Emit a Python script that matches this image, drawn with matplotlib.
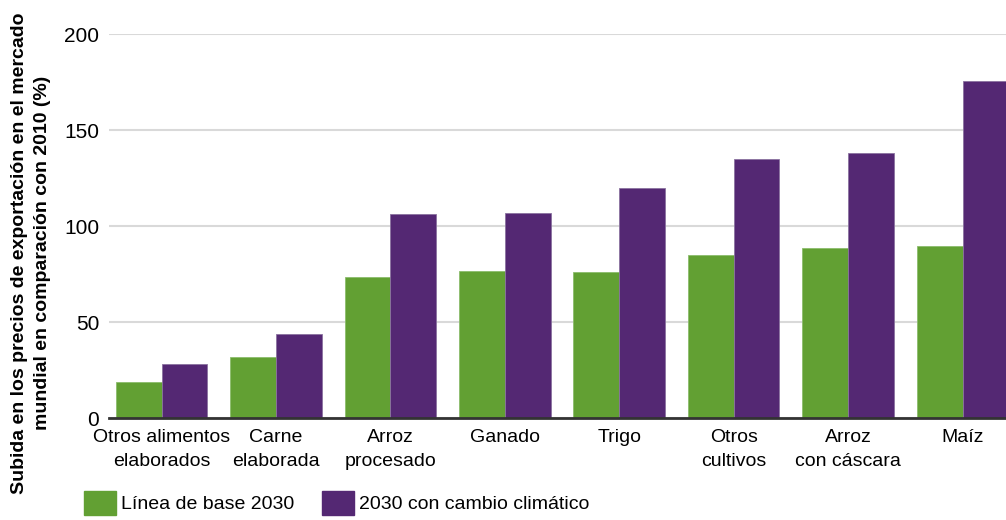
import numpy as np
import matplotlib.pyplot as plt
from matplotlib.patches import Patch

plt.rcParams['font.family'] = ['Liberation Sans', 'DejaVu Sans']

# productos y subida de precios (%) respecto a 2010
categorias = ['Otros alimentos\nelaborados', 'Carne\nelaborada', 'Arroz\nprocesado',
              'Ganado', 'Trigo', 'Otros\ncultivos', 'Arroz\ncon cáscara', 'Maíz']
base_2030 = [18.6, 31.8, 73.4, 76.6, 75.9, 84.7, 88.7, 89.4]
cambio_2030 = [28.3, 43.8, 106.3, 106.6, 120.0, 134.9, 137.8, 175.7]
series = ['Línea de base 2030', '2030 con cambio climático']

verde = '#62a033'
morado = '#542873'

fig = plt.figure(figsize=(10.06, 5.2), dpi=100)
ax = fig.add_axes([109/1006, 1 - 418/520, 1 - 109/1006, 384/520])

x = np.arange(len(categorias))
w = 0.4
ax.bar(x - w/2, base_2030, w, color=verde, edgecolor='#8cbc6c', linewidth=0.6, zorder=2)
ax.bar(x + w/2, cambio_2030, w, color=morado, edgecolor='#8a72a0', linewidth=0.6, zorder=2)

ax.set_xlim(-0.459, 7.38)
ax.set_ylim(0, 200)
ax.set_yticks([0, 50, 100, 150, 200])
ax.grid(axis='y', color='#d9d9d9', linewidth=1.5, zorder=0)
ax.set_axisbelow(True)
for s in ['top', 'right', 'left']:
    ax.spines[s].set_visible(False)
ax.spines['bottom'].set_color('#333333')
ax.spines['bottom'].set_linewidth(2)
ax.spines['bottom'].set_zorder(3)

ax.set_xticks(x)
ax.set_xticklabels(categorias, linespacing=1.55)
ax.tick_params(axis='both', length=0)
ax.tick_params(axis='y', pad=7, labelsize=15)
ax.tick_params(axis='x', pad=8, labelsize=14)

fig.text(31/1006, 1 - 253/520,
         'Subida en los precios de exportación en el mercado\n'
         'mundial en comparación con 2010 (%)',
         rotation=90, ha='center', va='center', multialignment='center',
         fontsize=14, fontweight='bold', linespacing=1.45)

handles = [Patch(color=verde), Patch(color=morado)]
fig.legend(handles, series, loc='center left', bbox_to_anchor=(76/1006, 1 - 503/520),
           ncol=2, frameon=False, fontsize=14, handlelength=1.65, handleheight=1.6,
           handletextpad=0.25, columnspacing=1.45, borderaxespad=0)

fig.savefig('out.png', dpi=100)
